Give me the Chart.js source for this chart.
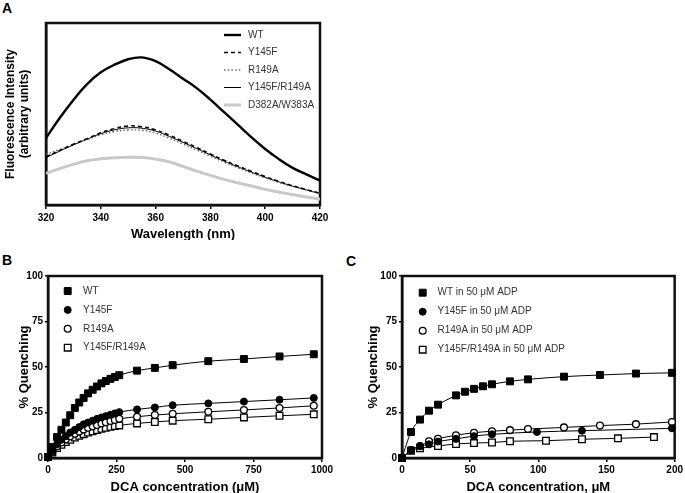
<!doctype html>
<html lang="en">
<head>
<meta charset="utf-8">
<title>Tryptophan fluorescence quenching</title>
<style>
  * { margin: 0; padding: 0; }
  body {
    width: 685px; height: 493px; position: relative; overflow: hidden;
    background: #fff; font-family: "Liberation Sans", Arial, sans-serif;
  }
  canvas { position: absolute; }
  .tag { position: absolute; font-weight: bold; font-size: 14px; line-height: 14px; color: #000; }
</style>
</head>
<body>
<div class="tag" style="left:2px;top:1px">A</div>
<div class="tag" style="left:2px;top:253px">B</div>
<div class="tag" style="left:346px;top:254px">C</div>

<canvas id="chartA" width="440" height="240" style="left:0;top:0"></canvas>
<canvas id="chartB" width="345" height="253" style="left:0;top:240px"></canvas>
<canvas id="chartC" width="340" height="253" style="left:345px;top:240px"></canvas>

<script src="https://cdn.jsdelivr.net/npm/chart.js"></script>
<script>
// ---- panel A: emission spectra (arbitrary units) ----
const wavelength = [320, 325, 330, 335, 340, 345, 350, 355, 360, 365, 370, 375, 380, 385, 390, 395, 400, 405, 410, 415, 420];
const specWT     = [36.8, 47.8, 57.7, 66.4, 72.9, 77.1, 80.1, 81.1, 79.0, 74.6, 69.4, 64.2, 57.9, 51.0, 44.1, 37.2, 30.8, 25.2, 20.4, 16.8, 13.4];
const specY145F  = [26.5, 30.0, 33.4, 36.4, 39.7, 42.0, 43.4, 43.0, 41.3, 38.4, 35.0, 31.6, 28.0, 24.6, 21.5, 18.5, 15.6, 13.0, 10.6, 8.5, 6.4];
const specR149A  = [27.8, 30.5, 33.3, 36.0, 38.5, 40.3, 41.2, 41.0, 39.5, 36.7, 33.5, 30.2, 26.8, 23.5, 20.5, 17.6, 14.9, 12.4, 10.2, 8.2, 6.5];
const specDouble = [26.0, 29.6, 33.0, 36.2, 39.2, 41.3, 42.4, 42.2, 40.6, 37.7, 34.4, 31.0, 27.5, 24.1, 21.0, 18.0, 15.2, 12.7, 10.4, 8.3, 6.3];
const specDW     = [17.4, 20.0, 22.3, 24.3, 25.4, 26.0, 26.2, 26.1, 25.2, 23.7, 21.2, 18.6, 16.3, 14.1, 12.2, 10.4, 8.6, 7.1, 5.7, 4.4, 3.2];

// ---- panel B: % quenching vs DCA (uM) ----
const dcaB     = [0, 16, 33, 49, 65, 81, 98, 114, 130, 146, 163, 179, 195, 211, 228, 244, 260, 325, 390, 455, 585, 715, 845, 970];
const qWT      = [0.5, 6, 11.5, 15.5, 19.5, 23.5, 27.5, 30.5, 33, 35.5, 37.5, 39.3, 41, 42.3, 43.5, 44.5, 45.5, 48, 49.5, 51, 53.2, 54.4, 55.8, 57];
const qY145F   = [0.5, 4, 7.5, 10, 12, 14, 15.5, 17, 18.5, 19.5, 20.5, 21.5, 22.3, 23, 23.8, 24.5, 25.2, 26.7, 27.8, 29, 30, 31, 32, 33];
const qR149A   = [0.5, 3.5, 6.5, 8.5, 10.3, 12, 13.3, 14.5, 15.6, 16.6, 17.4, 18.2, 19, 19.7, 20.3, 20.9, 21.5, 22.7, 23.6, 24.3, 25.4, 26.4, 27.5, 28.7];
const qDouble  = [0.5, 3, 5.5, 7.3, 8.8, 10, 11.2, 12.2, 13.1, 14, 14.7, 15.4, 16, 16.6, 17.1, 17.5, 17.9, 19, 19.8, 20.5, 21.3, 22.3, 23.2, 24];

// ---- panel C: % quenching in 50 uM ADP ----
const dcaC_WT     = [0, 6.6, 13.2, 19.8, 26.4, 39.6, 46.2, 52.8, 59.4, 66, 79.2, 92.4, 118.8, 145.2, 171.6, 198];
const qC_WT       = [0, 14.3, 21.1, 26, 29.3, 34.4, 36.4, 38, 39.4, 40.5, 42.1, 43.2, 44.7, 45.6, 46.4, 46.8];
const dcaC_Y145F  = [0, 6.6, 13.2, 19.8, 26.4, 39.6, 52.8, 66, 99, 132, 198];
const qC_Y145F    = [0, 4.5, 6.5, 7.5, 9, 10.5, 12, 13, 14.3, 15, 16.3];
const dcaC_R149A  = [0, 6.6, 13.2, 19.8, 26.4, 39.6, 52.8, 66, 79.2, 92.4, 118.8, 145.2, 171.6, 198];
const qC_R149A    = [0, 4.3, 6.5, 9.2, 10.6, 12.5, 13.9, 14.7, 15.3, 15.9, 16.8, 17.8, 18.6, 19.8];
const dcaC_Double = [0, 6.6, 13.2, 26.4, 39.6, 52.8, 66, 79.2, 105.6, 132, 158.4, 184.8];
const qC_Double   = [0, 4, 5.3, 6.6, 7.7, 8.2, 8.5, 9.2, 9.5, 10.3, 10.8, 11.5];

const FAMILY = "'Liberation Sans', Arial, sans-serif";

function xy(xs, ys) {
  return xs.map((x, i) => ({ x: x, y: ys[i] }));
}

// box round the plot area + legend drawn inside it
const plotDecor = {
  id: 'plotDecor',
  beforeDatasetsDraw(chart) {
    const a = chart.chartArea, ctx = chart.ctx;
    ctx.save();
    ctx.strokeStyle = '#111';
    ctx.lineWidth = 2.5;
    ctx.strokeRect(a.left, a.top, a.right - a.left, a.bottom - a.top);
    ctx.restore();
  },
  afterDraw(chart, args, opts) {
    const ctx = chart.ctx;
    ctx.save();
    ctx.font = '10px ' + FAMILY;
    ctx.textBaseline = 'middle';
    chart.data.datasets.forEach((ds, i) => {
      const y = opts.y + i * opts.dy;
      if (opts.kind === 'line') {
        ctx.strokeStyle = ds.borderColor;
        ctx.lineWidth = ds.borderWidth;
        ctx.setLineDash(ds.borderDash || []);
        ctx.beginPath();
        ctx.moveTo(opts.x, y);
        ctx.lineTo(opts.x + 17, y);
        ctx.stroke();
        ctx.setLineDash([]);
      } else {
        ctx.fillStyle = ds.pointBackgroundColor;
        ctx.strokeStyle = ds.pointBorderColor;
        ctx.lineWidth = ds.pointBorderWidth;
        Chart.helpers.drawPoint(ctx, {
          pointStyle: ds.pointStyle, radius: ds.pointRadius,
          borderWidth: ds.pointBorderWidth, rotation: 0
        }, opts.x, y);
      }
      ctx.fillStyle = '#333';
      ctx.fillText(ds.label, opts.textX, y);
    });
    ctx.restore();
  }
};

function axisX(min, max, step, title, tickPad) {
  return {
    type: 'linear', min: min, max: max,
    afterFit(s) { s.height = 35; },
    ticks: { stepSize: step, color: '#000', padding: tickPad, callback: v => String(v),
             font: { family: FAMILY, size: 10, weight: 'bold' } },
    grid: { display: true, drawOnChartArea: false, drawTicks: true, tickLength: 4, color: '#000', lineWidth: 1.5 },
    border: { display: true, color: '#111', width: 2.5 },
    title: { display: true, text: title, color: '#000', padding: { top: 0, bottom: -1 },
             font: { family: FAMILY, size: 13, weight: 'bold', lineHeight: 1 } }
  };
}

function axisQ(width, titlePad) {
  return {
    type: 'linear', min: 0, max: 100,
    afterFit(s) { s.width = width; },
    ticks: { stepSize: 25, color: '#000', padding: 2, font: { family: FAMILY, size: 10, weight: 'bold' } },
    grid: { display: true, drawOnChartArea: false, drawTicks: true, tickLength: 3, color: '#000', lineWidth: 1.5 },
    border: { display: true, color: '#111', width: 2.5 },
    title: { display: true, text: '% Quenching', color: '#000', padding: { top: titlePad, bottom: 0 },
             font: { family: FAMILY, size: 13, weight: 'bold', lineHeight: 1 } }
  };
}

function spectrum(label, data, color, width, dash) {
  return {
    label: label, data: xy(wavelength, data), borderColor: color, borderWidth: width,
    borderDash: dash, pointRadius: 0, tension: 0.4, fill: false
  };
}

// marker kinds for B and C
const MARKS = [
  { pointStyle: 'rect', pointRadius: 4.9, pointBackgroundColor: '#000', pointBorderColor: '#000', pointBorderWidth: 1 },
  { pointStyle: 'circle', pointRadius: 3.5, pointBackgroundColor: '#000', pointBorderColor: '#000', pointBorderWidth: 1 },
  { pointStyle: 'circle', pointRadius: 3.4, pointBackgroundColor: '#fff', pointBorderColor: '#000', pointBorderWidth: 1.3 },
  { pointStyle: 'rect', pointRadius: 4.7, pointBackgroundColor: '#fff', pointBorderColor: '#000', pointBorderWidth: 1.3 }
];

function titration(label, xs, ys, k) {
  return Object.assign({
    label: label, data: xy(xs, ys), borderColor: '#000', borderWidth: 1,
    cubicInterpolationMode: 'monotone', fill: false, clip: false
  }, MARKS[k]);
}

const common = {
  responsive: false, animation: false, devicePixelRatio: 1,
  plugins: { legend: { display: false }, tooltip: { enabled: false } }
};

// panel A
new Chart(document.getElementById('chartA'), {
  type: 'line',
  data: {
    datasets: [
      spectrum('WT', specWT, '#000', 2.4, []),
      spectrum('Y145F', specY145F, '#000', 1.5, [4, 3]),
      spectrum('R149A', specR149A, '#666', 1.4, [1.5, 2.2]),
      spectrum('Y145F/R149A', specDouble, '#000', 1, []),
      spectrum('D382A/W383A', specDW, '#c8c8c8', 3, [])
    ]
  },
  options: Object.assign({}, common, {
    layout: { padding: { left: 0, top: 23, right: 120, bottom: 0 } },
    plugins: Object.assign({}, common.plugins, {
      plotDecor: { kind: 'line', x: 224, y: 35, dy: 17.5, textX: 248 }
    }),
    scales: {
      x: axisX(320, 420, 20, 'Wavelength (nm)', 3),
      y: {
        type: 'linear', min: 0, max: 100,
        afterFit(s) { s.width = 46; },
        ticks: { display: false },
        grid: { display: false },
        border: { display: true, color: '#111', width: 2.5 },
        title: { display: true, text: ['Fluorescence Intensity', '(arbitrary units)'], color: '#000',
                 padding: { top: 4, bottom: 0 },
                 font: { family: FAMILY, size: 12, weight: 'bold', lineHeight: 1.15 } }
      }
    }
  }),
  plugins: [plotDecor]
});

// panel B
new Chart(document.getElementById('chartB'), {
  type: 'line',
  data: {
    datasets: [
      titration('WT', dcaB, qWT, 0),
      titration('Y145F', dcaB, qY145F, 1),
      titration('R149A', dcaB, qR149A, 2),
      titration('Y145F/R149A', dcaB, qDouble, 3)
    ]
  },
  options: Object.assign({}, common, {
    layout: { padding: { left: 0, top: 36, right: 23, bottom: 0 } },
    plugins: Object.assign({}, common.plugins, {
      plotDecor: { kind: 'point', x: 67.7, y: 51, dy: 18.9, textX: 83 }
    }),
    scales: {
      x: axisX(0, 1000, 250, 'DCA concentration (\u03bcM)', 2),
      y: axisQ(48, 18)
    }
  }),
  plugins: [plotDecor]
});

// panel C
new Chart(document.getElementById('chartC'), {
  type: 'line',
  data: {
    datasets: [
      titration('WT in 50 \u03bcM ADP', dcaC_WT, qC_WT, 0),
      titration('Y145F in 50 \u03bcM ADP', dcaC_Y145F, qC_Y145F, 1),
      titration('R149A in 50 \u03bcM ADP', dcaC_R149A, qC_R149A, 2),
      titration('Y145F/R149A in 50 \u03bcM ADP', dcaC_Double, qC_Double, 3)
    ]
  },
  options: Object.assign({}, common, {
    layout: { padding: { left: 0, top: 36, right: 10, bottom: 0 } },
    plugins: Object.assign({}, common.plugins, {
      plotDecor: { kind: 'point', x: 77.7, y: 52.7, dy: 19, textX: 92.5 }
    }),
    scales: {
      x: axisX(0, 200, 50, 'DCA concentration, \u03bcM', 2),
      y: axisQ(57, 22)
    }
  }),
  plugins: [plotDecor]
});
</script>
</body>
</html>
